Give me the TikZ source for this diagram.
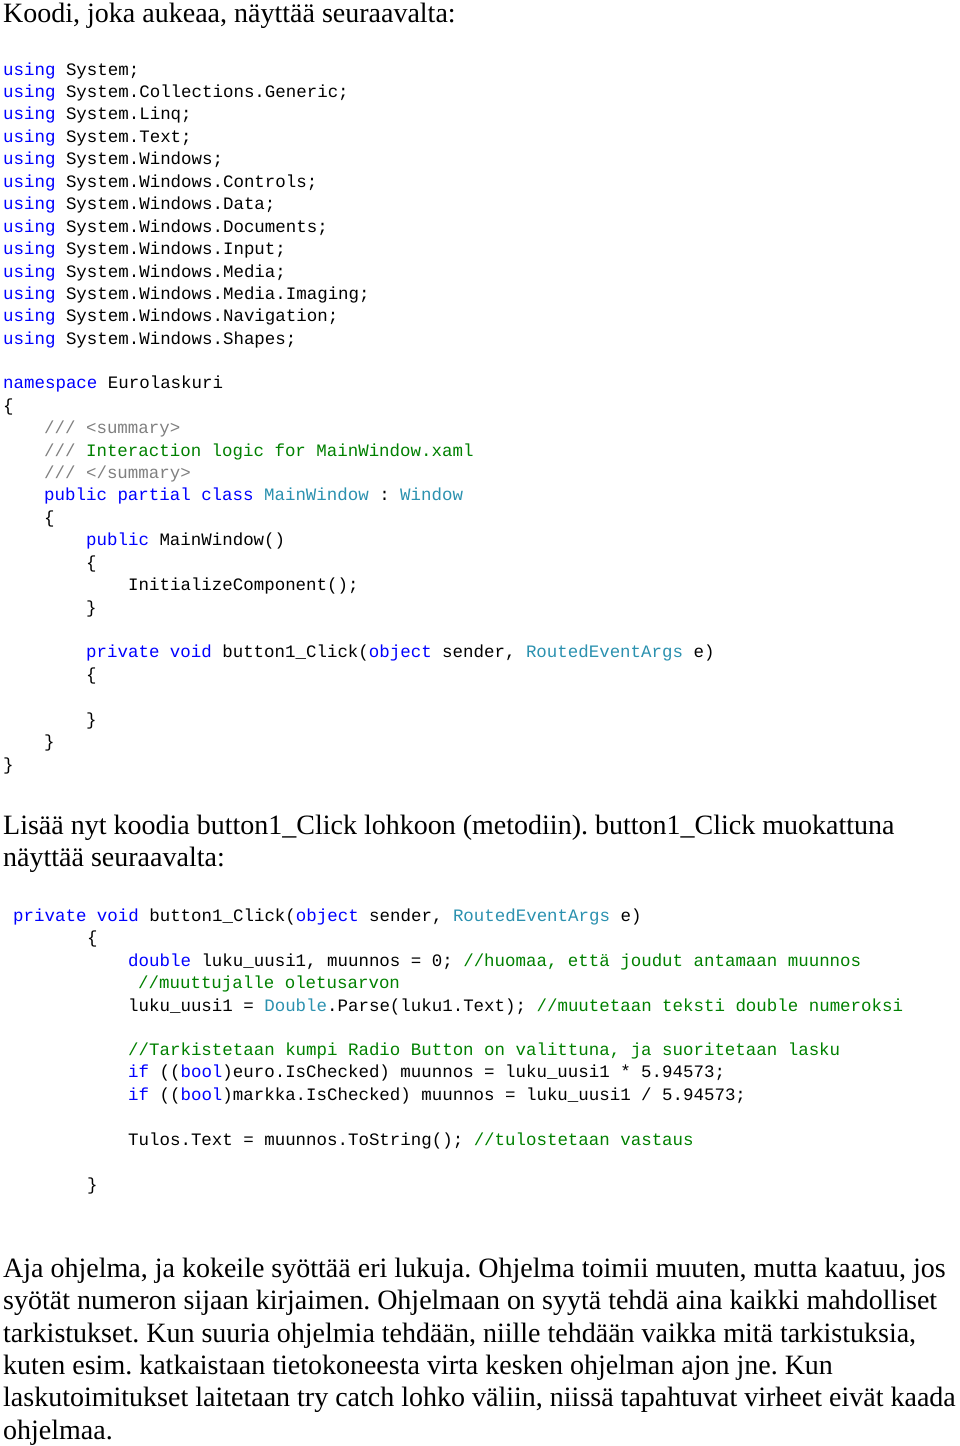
\documentclass[tikz,border=0pt]{standalone}
\usepackage{fontspec}
\setmainfont{Liberation Serif}
\setmonofont{Liberation Mono}
\frenchspacing
\definecolor{kwblue}{RGB}{0,0,255}
\definecolor{tyteal}{RGB}{43,145,175}
\definecolor{cmgreen}{RGB}{0,128,0}
\definecolor{docgray}{RGB}{128,128,128}
\newcommand{\kw}[1]{\textcolor{kwblue}{#1}}
\newcommand{\ty}[1]{\textcolor{tyteal}{#1}}
\newcommand{\cm}[1]{\textcolor{cmgreen}{#1}}
\newcommand{\dg}[1]{\textcolor{docgray}{#1}}
\tikzset{
  code/.style={anchor=base west,inner sep=0pt,font=\fontsize{17.45}{20}\ttfamily},
  prose/.style={anchor=base west,inner sep=0pt,font=\fontsize{28}{32}\rmfamily}
}
\begin{document}
\begin{tikzpicture}[x=1pt,y=-1pt]
\useasboundingbox (0,0) rectangle (960,1446);
\node[prose] (title) at (3,22) {Koodi, joka aukeaa, näyttää seuraavalta:};
% using-lauseet
\foreach \ns [count=\i] in {System;,System.Collections.Generic;,System.Linq;,System.Text;,System.Windows;,System.Windows.Controls;,System.Windows.Data;,System.Windows.Documents;,System.Windows.Input;,System.Windows.Media;,System.Windows.Media.Imaging;,System.Windows.Navigation;,System.Windows.Shapes;}
  \node[code] (using\i) at (3,{75+22.45*(\i-1)}) {\kw{using} \ns};
\node[code] (ns) at (3,388) {\kw{namespace} Eurolaskuri};
\node[code] (nsopen) at (3,411) {\{};
\node[code] (doc1) at (44,433) {\dg{/// <summary>}};
\node[code] (doc2) at (44,456) {\dg{///} \cm{Interaction logic for MainWindow.xaml}};
\node[code] (doc3) at (44,478) {\dg{/// </summary>}};
\node[code] (cls) at (44,500) {\kw{public} \kw{partial} \kw{class} \ty{MainWindow} : \ty{Window}};
\node[code] (clsopen) at (44,523) {\{};
\node[code] (ctor) at (86,545) {\kw{public} MainWindow()};
\node[code] (ctoropen) at (86,568) {\{};
\node[code] (init) at (128,590) {InitializeComponent();};
\node[code] (ctorclose) at (86,613) {\}};
\node[code] (click) at (86,657) {\kw{private} \kw{void} button1\_Click(\kw{object} sender, \ty{RoutedEventArgs} e)};
\node[code] (clickopen) at (86,680) {\{};
\node[code] (clickclose) at (86,725) {\}};
\node[code] (clsclose) at (44,747) {\}};
\node[code] (nsclose) at (3,770) {\}};
% valiteksti
\node[prose] (mid1) at (3,834) {Lisää nyt koodia button1\_Click lohkoon (metodiin). button1\_Click muokattuna};
\node[prose] (mid2) at (3,866) {näyttää seuraavalta:};
% muokattu metodi
\node[code] (m1) at (13,921) {\kw{private} \kw{void} button1\_Click(\kw{object} sender, \ty{RoutedEventArgs} e)};
\node[code] (m2) at (87,943) {\{};
\node[code] (m3) at (128,966) {\kw{double} luku\_uusi1, muunnos = 0; \cm{//huomaa, että joudut antamaan muunnos}};
\node[code] (m4) at (138,988) {\cm{//muuttujalle oletusarvon}};
\node[code] (m5) at (128,1011) {luku\_uusi1 = \ty{Double}.Parse(luku1.Text); \cm{//muutetaan teksti double numeroksi}};
\node[code] (m6) at (128,1055) {\cm{//Tarkistetaan kumpi Radio Button on valittuna, ja suoritetaan lasku}};
\node[code] (m7) at (128,1077) {\kw{if} ((\kw{bool})euro.IsChecked) muunnos = luku\_uusi1 * 5.94573;};
\node[code] (m8) at (128,1100) {\kw{if} ((\kw{bool})markka.IsChecked) muunnos = luku\_uusi1 / 5.94573;};
\node[code] (m9) at (128,1145) {Tulos.Text = muunnos.ToString(); \cm{//tulostetaan vastaus}};
\node[code] (m10) at (87,1190) {\}};
% loppukappale
\node[prose] (end1) at (3,1277) {Aja ohjelma, ja kokeile syöttää eri lukuja. Ohjelma toimii muuten, mutta kaatuu, jos};
\node[prose] (end2) at (3,1309) {syötät numeron sijaan kirjaimen. Ohjelmaan on syytä tehdä aina kaikki mahdolliset};
\node[prose] (end3) at (3,1342) {tarkistukset. Kun suuria ohjelmia tehdään, niille tehdään vaikka mitä tarkistuksia,};
\node[prose] (end4) at (3,1374) {kuten esim. katkaistaan tietokoneesta virta kesken ohjelman ajon jne. Kun};
\node[prose] (end5) at (3,1406) {laskutoimitukset laitetaan try catch lohko väliin, niissä tapahtuvat virheet eivät kaada};
\node[prose] (end6) at (3,1439) {ohjelmaa.};
\end{tikzpicture}
\end{document}
